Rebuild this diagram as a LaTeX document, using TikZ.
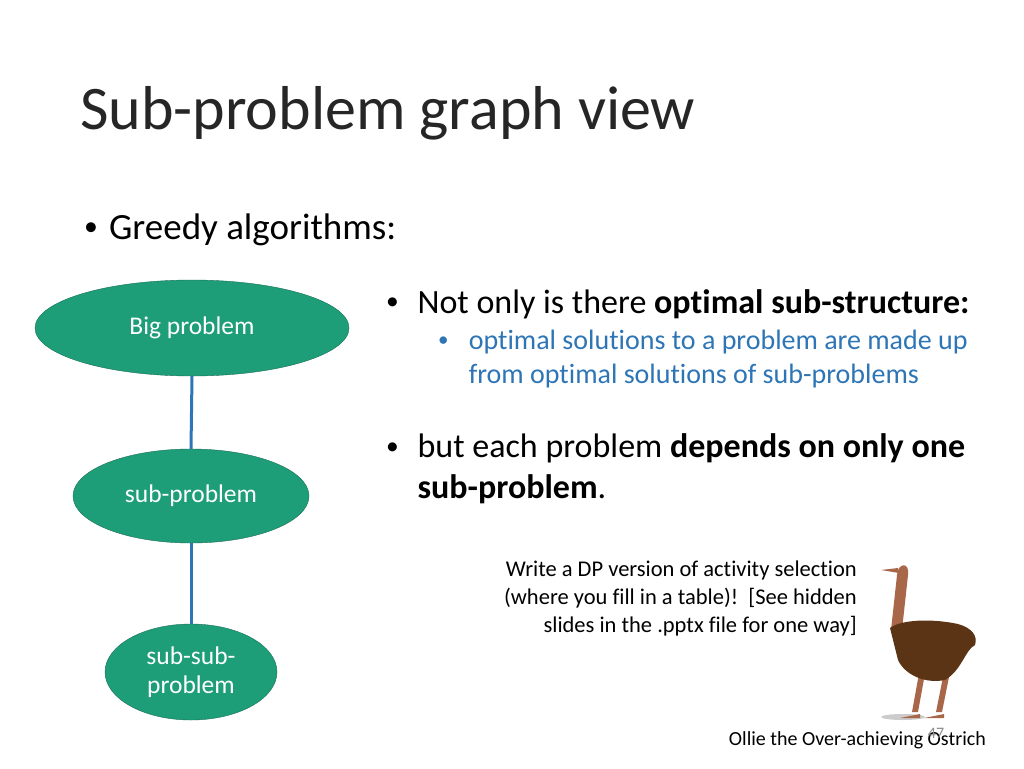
\documentclass[tikz,border=0pt]{standalone}
\usepackage{fontspec}
\setmainfont{Carlito}[Ligatures={NoCommon}]
\usetikzlibrary{shapes.geometric}
\definecolor{teal1}{HTML}{1E9E78}
\definecolor{tealdark}{HTML}{1B6E58}
\definecolor{linkblue}{HTML}{2E75B6}
\definecolor{ostrich}{HTML}{5A3414}
\definecolor{ostrichskin}{HTML}{A9674A}
\newcommand{\blt}{\raisebox{0.1em}{\scalebox{0.75}{\textbullet}}}
\tikzset{
  prob/.style={ellipse, draw=tealdark, fill=teal1, text=white, font=\fontsize{25.5}{29}\selectfont, align=center, inner sep=0pt},
  link/.style={draw=linkblue, line width=3pt},
  txt/.style={anchor=west, inner sep=0pt}
}
\begin{document}
\begin{tikzpicture}[x=1pt,y=-1pt]
	\useasboundingbox (0,0) rectangle (1024,768);
	\node [txt, font=\fontsize{62}{66}\selectfont, text=black!85] (title) at (80,113) {Sub-problem graph view};
	\node [txt, font=\fontsize{37}{40}\selectfont] (greedy) at (84,230) {\blt\hspace{0.3em}Greedy algorithms:};

	\node [prob, minimum width=314pt, minimum height=96pt] (big) at (192,328) {Big problem};
	\node [prob, minimum width=236pt, minimum height=94pt] (sub) at (191,496) {sub-problem};
	\node [prob, minimum width=172pt, minimum height=96pt] (subsub) at (191,672) {sub-sub-\\problem};

	\draw [link] (big.south) -- (sub.north);
	\draw [link] (sub.south) -- (subsub.north);

	\node [txt, font=\fontsize{34}{38}\selectfont] (p1) at (386,304) {\blt\hspace{0.55em}Not only is there \textbf{optimal sub-structure:}};
	\node [txt, font=\fontsize{28}{34}\selectfont, text=linkblue, align=left] (p2) at (438,359) {\blt\hspace{0.72em}optimal solutions to a problem are made up\\\phantom{\blt\hspace{0.72em}}from optimal solutions of sub-problems};
	\node [txt, font=\fontsize{34}{41}\selectfont, align=left] (p3) at (386,469) {\blt\hspace{0.55em}but each problem \textbf{depends on only one}\\\phantom{\blt\hspace{0.55em}}\textbf{sub-problem}.};

	\node [anchor=north east, inner sep=0pt, font=\fontsize{22.5}{28}\selectfont, align=right] (hint) at (857,561) {Write a DP version of activity selection\\(where you fill in a table)!\ \ [See hidden\\slides in the .pptx file for one way]};

	% ostrich
	\fill [black!20] (903,717) ellipse (22 and 3);
	\fill [ostrichskin] (912,712) -- (920,668) -- (926,668) -- (918,712) -- cycle;
	\fill [ostrichskin] (936,712) -- (944,672) -- (950,672) -- (942,712) -- cycle;
	\fill [ostrichskin] (900,718) -- (920,714) -- (920,718) -- cycle;
	\fill [ostrichskin] (924,718) -- (944,714) -- (944,718) -- cycle;
	\fill [ostrichskin] (891,630) -- (897,575) .. controls (898,562) and (910,562) .. (908,575) -- (902,630) -- cycle;
	\fill [ostrichskin] (898,568) -- (881,570) -- (899,573) -- cycle;
	\fill [ostrich] (890,628) .. controls (900,620) and (930,618) .. (958,624)
		.. controls (972,628) and (978,636) .. (975,645)
		.. controls (965,650) and (962,670) .. (945,680)
		.. controls (925,684) and (905,675) .. (898,660) -- cycle;

	\node [anchor=south east, inner sep=0pt, font=\fontsize{20}{22}\selectfont] (ollie) at (986,749) {Ollie the Over-achieving Ostrich};
	\node [inner sep=0pt, font=\fontsize{16}{18}\selectfont, text=black!45] (num) at (936,733) {47};
\end{tikzpicture}
\end{document}
